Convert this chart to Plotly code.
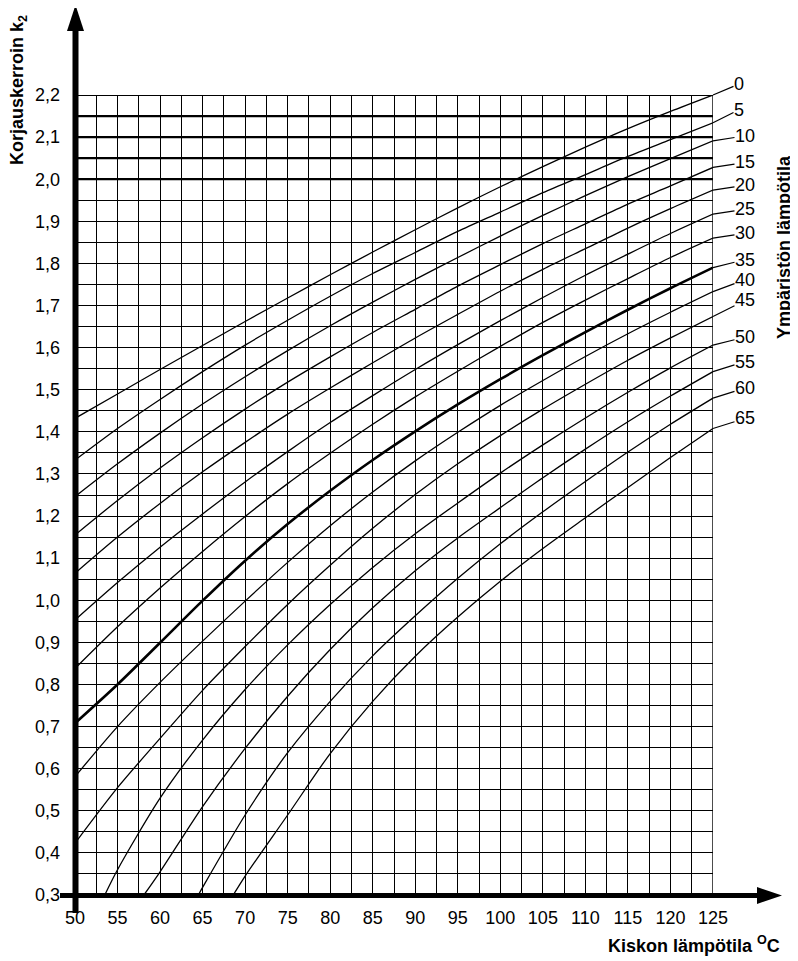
import plotly.graph_objects as go

# ---------------- data ----------------
BUS_TEMP = [50, 55, 60, 65, 70, 75, 80, 85, 90, 95, 100, 105, 110, 115, 120, 125]
AMBIENT = [0, 5, 10, 15, 20, 25, 30, 35, 40, 45, 50, 55, 60, 65]

K2_AMB_0 = [1.432, 1.490, 1.548, 1.605, 1.662, 1.718, 1.773, 1.827, 1.880, 1.932, 1.982, 2.030, 2.076, 2.120, 2.161, 2.200]
K2_AMB_5 = [1.333, 1.408, 1.477, 1.543, 1.606, 1.665, 1.722, 1.776, 1.826, 1.876, 1.922, 1.968, 2.011, 2.054, 2.094, 2.134]
K2_AMB_10 = [1.246, 1.324, 1.397, 1.466, 1.531, 1.593, 1.652, 1.708, 1.762, 1.814, 1.865, 1.914, 1.961, 2.006, 2.049, 2.091]
K2_AMB_15 = [1.155, 1.237, 1.314, 1.386, 1.454, 1.518, 1.578, 1.636, 1.691, 1.746, 1.797, 1.847, 1.894, 1.941, 1.984, 2.028]
K2_AMB_20 = [1.064, 1.150, 1.230, 1.305, 1.375, 1.442, 1.504, 1.564, 1.623, 1.679, 1.734, 1.786, 1.835, 1.884, 1.930, 1.974]
K2_AMB_25 = [0.953, 1.042, 1.126, 1.205, 1.281, 1.353, 1.422, 1.486, 1.548, 1.607, 1.664, 1.719, 1.772, 1.822, 1.871, 1.917]
K2_AMB_30 = [0.838, 0.937, 1.029, 1.116, 1.199, 1.277, 1.349, 1.418, 1.483, 1.544, 1.603, 1.660, 1.713, 1.764, 1.814, 1.860]
K2_AMB_35 = [0.708, 0.800, 0.899, 0.999, 1.094, 1.181, 1.260, 1.333, 1.401, 1.465, 1.525, 1.582, 1.637, 1.690, 1.741, 1.790]
K2_AMB_40 = [0.581, 0.700, 0.805, 0.903, 0.998, 1.090, 1.177, 1.257, 1.331, 1.399, 1.463, 1.522, 1.579, 1.633, 1.684, 1.733]
K2_AMB_45 = [0.423, 0.555, 0.672, 0.786, 0.890, 0.990, 1.083, 1.171, 1.251, 1.324, 1.391, 1.454, 1.513, 1.570, 1.623, 1.674]
# the lowest curves begin on the bottom edge (k2 = 0.3) at these bus temperatures
START_TEMP = {50: 53.5, 55: 58.1, 60: 64.5, 65: 68.6}
K2_MIN = 0.3
K2_AMB_50 = [0.36, 0.53, 0.668, 0.788, 0.894, 0.990, 1.078, 1.158, 1.231, 1.302, 1.369, 1.433, 1.494, 1.552, 1.606]
K2_AMB_55 = [0.355, 0.51, 0.648, 0.772, 0.883, 0.982, 1.070, 1.148, 1.220, 1.291, 1.359, 1.424, 1.485, 1.543]
K2_AMB_60 = [0.318, 0.49, 0.638, 0.760, 0.868, 0.963, 1.052, 1.134, 1.210, 1.282, 1.352, 1.418, 1.480]
K2_AMB_65 = [0.345, 0.49, 0.636, 0.760, 0.867, 0.960, 1.045, 1.123, 1.196, 1.268, 1.339, 1.408]

Y_TICKS = [0.3, 0.4, 0.5, 0.6, 0.7, 0.8, 0.9, 1.0, 1.1, 1.2, 1.3, 1.4, 1.5, 1.6, 1.7, 1.8, 1.9, 2.0, 2.1, 2.2]
Y_TICK_TEXT = ["0,3", "0,4", "0,5", "0,6", "0,7", "0,8", "0,9", "1,0", "1,1", "1,2", "1,3", "1,4",
               "1,5", "1,6", "1,7", "1,8", "1,9", "2,0", "2,1", "2,2"]
X_TICKS = [50, 55, 60, 65, 70, 75, 80, 85, 90, 95, 100, 105, 110, 115, 120, 125]
HEAVY_K2_LINES = [2.0, 2.05, 2.1, 2.15, 2.2]

# label placement (pixel offsets of each curve label from the curve end)
LABEL_OFFSETS = {0: (26, -11), 5: (26, -13), 10: (32, -5), 15: (32, -5), 20: (32, -5),
                 25: (32, -5), 30: (32, -5), 35: (32, -8), 40: (32, -12), 45: (32, -16),
                 50: (32, -8), 55: (32, -10), 60: (32, -10), 65: (32, -10)}

CURVES = {0: K2_AMB_0, 5: K2_AMB_5, 10: K2_AMB_10, 15: K2_AMB_15, 20: K2_AMB_20,
          25: K2_AMB_25, 30: K2_AMB_30, 35: K2_AMB_35, 40: K2_AMB_40, 45: K2_AMB_45,
          50: K2_AMB_50, 55: K2_AMB_55, 60: K2_AMB_60, 65: K2_AMB_65}

# ---------------- layout geometry ----------------
# the page body has an 8 px margin, so the figure is drawn 8 px smaller and all
# target page-pixel positions are shifted by that offset
OFF = 8
W, H = 798 - OFF, 961 - OFF
PLOT_X0, PLOT_X1, PLOT_Y0, PLOT_Y1 = 75, 713, 95, 895   # page pixels of the grid
L, T = PLOT_X0 - OFF, PLOT_Y0 - OFF
PW, PH = PLOT_X1 - PLOT_X0, PLOT_Y1 - PLOT_Y0
R, B = W - L - PW, H - T - PH
FONT = "Liberation Sans, Arial, sans-serif"


def paper(px, py):
    """page pixel -> paper coordinate"""
    return (px - PLOT_X0) / PW, (PLOT_Y1 - py) / PH


fig = go.Figure()

for amb in AMBIENT:
    ys = CURVES[amb]
    if amb in START_TEMP:
        xs = [START_TEMP[amb]] + BUS_TEMP[len(BUS_TEMP) - len(ys):]
        ys = [K2_MIN] + ys
    else:
        xs = BUS_TEMP
    fig.add_trace(go.Scatter(
        x=xs, y=ys, mode="lines",
        line=dict(color="black", width=2.6 if amb == 35 else 1.3, shape="spline", smoothing=0.8),
        hoverinfo="skip", showlegend=False, cliponaxis=False,
    ))
    ax, ay = LABEL_OFFSETS[amb]
    fig.add_annotation(
        x=BUS_TEMP[-1], y=ys[-1], xref="x", yref="y", text=str(amb),
        showarrow=True, arrowhead=0, arrowwidth=1.2, arrowcolor="black",
        ax=ax, ay=ay, standoff=0, startstandoff=0, borderpad=0,
        font=dict(family=FONT, size=18, color="black"),
    )

shapes = []
for k in HEAVY_K2_LINES:
    shapes.append(dict(type="line", xref="x", yref="y", x0=50, x1=125, y0=k, y1=k,
                       line=dict(color="black", width=2.2), layer="above"))
shapes.append(dict(type="line", xref="x", yref="y", x0=125, x1=125, y0=0.3, y1=2.2,
                   line=dict(color="black", width=1.4), layer="above"))

# axes with arrows
x0p, y0p = paper(75.5, 913)
x1p, y1p = paper(75.5, 28)
shapes.append(dict(type="line", xref="paper", yref="paper", x0=x0p, y0=y0p, x1=x1p, y1=y1p,
                   line=dict(color="black", width=6), layer="above"))
a, b = paper(67, 31); c, d = paper(84, 31); e, f = paper(75.5, 5)
shapes.append(dict(type="path", xref="paper", yref="paper",
                   path=f"M {a} {b} L {c} {d} L {e} {f} Z", fillcolor="black",
                   line=dict(color="black", width=0), layer="above"))
x0p, y0p = paper(60, 895.5)
x1p, y1p = paper(762, 895.5)
shapes.append(dict(type="line", xref="paper", yref="paper", x0=x0p, y0=y0p, x1=x1p, y1=y1p,
                   line=dict(color="black", width=5), layer="above"))
a, b = paper(757, 887); c, d = paper(757, 904); e, f = paper(782, 895.5)
shapes.append(dict(type="path", xref="paper", yref="paper",
                   path=f"M {a} {b} L {c} {d} L {e} {f} Z", fillcolor="black",
                   line=dict(color="black", width=0), layer="above"))

# titles
tx, ty = paper(19, 90)
fig.add_annotation(x=tx, y=ty, xref="paper", yref="paper", text="Korjauskerroin k<sub>2</sub>",
                   textangle=-90, showarrow=False, xanchor="center", yanchor="middle",
                   font=dict(family=FONT, size=18, color="black", weight="bold"))
tx, ty = paper(784, 247)
fig.add_annotation(x=tx, y=ty, xref="paper", yref="paper", text="Ympäristön lämpötila",
                   textangle=-90, showarrow=False, xanchor="center", yanchor="middle",
                   font=dict(family=FONT, size=18, color="black", weight="bold"))
tx, ty = paper(782, 944)
fig.add_annotation(x=tx, y=ty, xref="paper", yref="paper", text="Kiskon lämpötila <sup>O</sup>C",
                   xanchor="right", yanchor="middle", showarrow=False,
                   font=dict(family=FONT, size=18, color="black", weight="bold"))

fig.update_layout(
    width=W, height=H, autosize=False,
    margin=dict(l=L, r=R, t=T, b=B, autoexpand=False),
    paper_bgcolor="white", plot_bgcolor="white",
    shapes=shapes,
    xaxis=dict(range=[50, 125], tickmode="array", tickvals=X_TICKS, automargin=False,
               ticktext=[str(v) for v in X_TICKS], ticks="", showline=False, zeroline=False,
               tickfont=dict(family=FONT, size=18, color="black"), ticklabelstandoff=10,
               showgrid=True, gridcolor="black", gridwidth=1.3,
               minor=dict(tick0=50, dtick=2.5, showgrid=True, gridcolor="black", gridwidth=1.3)),
    yaxis=dict(range=[0.3, 2.2], tickmode="array", tickvals=Y_TICKS, ticktext=Y_TICK_TEXT,
               automargin=False, ticks="", showline=False, zeroline=False,
               tickfont=dict(family=FONT, size=18, color="black"), ticklabelstandoff=14,
               showgrid=True, gridcolor="black", gridwidth=1.3,
               minor=dict(tick0=0.3, dtick=0.05, showgrid=True, gridcolor="black", gridwidth=1.3)),
)

fig.write_html("out.html")
